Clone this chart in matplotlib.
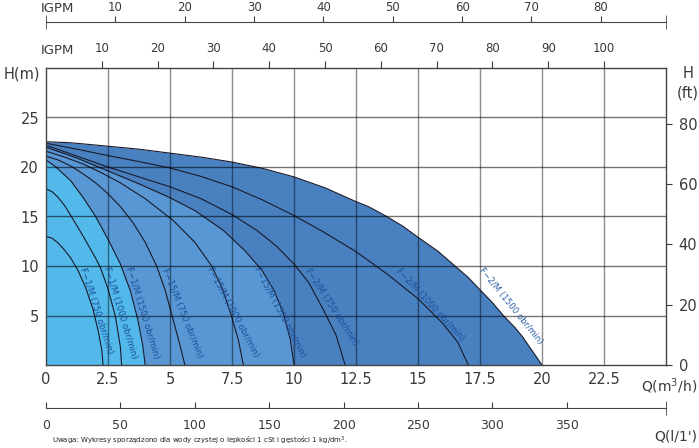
import matplotlib
matplotlib.use("Agg")
import matplotlib.pyplot as plt
from matplotlib.ticker import FixedLocator, NullFormatter

# ---------------- data (Q in m3/h, H in m) ----------------
q_f1_750 = [0, 0.25, 0.5, 0.75, 1.0, 1.3, 1.6, 1.9, 2.1, 2.25, 2.3]
h_f1_750 = [13.0, 12.8, 12.3, 11.6, 10.8, 9.5, 7.8, 5.6, 3.5, 1.5, 0]

q_f1_1000 = [0, 0.25, 0.5, 0.75, 1.0, 1.5, 2.0, 2.2, 2.5, 2.8, 3.0, 3.05]
h_f1_1000 = [17.8, 17.5, 16.9, 16.1, 15.1, 13.0, 10.8, 9.8, 7.7, 4.9, 1.8, 0]

q_f1_1500 = [0, 0.4, 1.0, 1.5, 2.0, 2.5, 3.0, 3.4, 3.7, 3.9, 4.0]
h_f1_1500 = [20.7, 20.0, 18.6, 16.9, 15.0, 12.7, 10.2, 7.5, 4.6, 2.0, 0]

q_f15_750 = [0, 0.5, 1, 1.5, 2, 2.5, 3, 3.5, 4.0, 4.46, 4.8, 5.07, 5.35, 5.6]
h_f15_750 = [21.1, 20.7, 20.1, 19.3, 18.4, 17.3, 16.0, 14.4, 12.4, 10.0, 7.6, 5.1, 2.5, 0]

q_f15_1000 = [0, 0.75, 1.5, 2.25, 3, 4, 5.13, 6, 6.68, 7.1, 7.46, 7.75, 7.96]
h_f15_1000 = [21.6, 21.0, 20.3, 19.4, 18.4, 16.8, 14.6, 12.4, 10.0, 7.8, 5.1, 2.6, 0]

q_f15_1500 = [0, 1.25, 2.5, 3.75, 5, 6, 7.15, 8, 8.7, 9.2, 9.57, 9.85, 10.0]
h_f15_1500 = [22.0, 20.9, 19.6, 18.3, 16.9, 15.6, 13.6, 11.6, 9.6, 7.5, 5.2, 2.6, 0]

q_f2_750 = [0, 1.25, 2.5, 3.75, 5, 6.25, 7.5, 8.5, 9.3, 10, 10.6, 11.18, 11.7, 12.06]
h_f2_750 = [22.2, 21.1, 20.0, 19.0, 18.0, 16.8, 15.2, 13.6, 12.0, 10.2, 8.3, 5.6, 3.0, 0]

q_f2_1000 = [0, 1.25, 2.5, 3.75, 5, 6.25, 7.5, 8.75, 10, 11.25, 12.5, 13.75, 15, 16, 16.6, 17.03]
h_f2_1000 = [22.4, 21.8, 21.15, 20.55, 19.9, 19.05, 18.0, 16.65, 15.1, 13.35, 11.45, 9.2, 6.7, 4.2, 2.3, 0]

q_f2_1500 = [0, 1, 2.5, 3.75, 5, 6.25, 7.5, 8.75, 10, 11.25, 12.5, 13.0, 13.74, 14.4,
             15, 15.8, 16.49, 17.0, 17.5, 18.0, 18.44, 18.9, 19.2, 19.5, 20]
h_f2_1500 = [22.55, 22.45, 22.1, 21.8, 21.4, 21.0, 20.5, 19.85, 19.0, 17.9, 16.5, 16.0, 15.0, 14.0,
             12.9, 11.5, 10.0, 8.9, 7.6, 6.3, 5.0, 3.8, 2.9, 1.8, 0]

curve_labels = ["F\u22121/M (750 obr/min)", "F\u22121/M (1000 obr/min)", "F\u22121/M (1500 obr/min)",
                "F\u221215/M (750 obr/min)", "F\u221215/M (1000 obr/min)", "F\u221215/M (1500 obr/min)",
                "F\u22122/M (750 obr/min)", "F\u22122/M (1000 obr/min)", "F\u22122/M (1500 obr/min)"]
label_q = [2.02, 2.98, 3.9, 5.5, 7.55, 9.44, 11.5, 15.48, 18.75]
label_h = [5.45, 5.25, 5.25, 5.25, 5.35, 5.35, 5.85, 6.15, 5.95]
label_rot = [-72, -73, -73, -68, -62, -62, -57, -47, -51]

x_ticks = [0, 2.5, 5, 7.5, 10, 12.5, 15, 17.5, 20, 22.5]
x_ticklabels = ["0", "2.5", "5", "7.5", "10", "12.5", "15", "17.5", "20", "22.5"]
y_ticks = [5, 10, 15, 20, 25]
ft_ticks = [0, 20, 40, 60, 80]
igpm_top_ticks = [10, 20, 30, 40, 50, 60, 70, 80]
igpm_ticks = [10, 20, 30, 40, 50, 60, 70, 80, 90, 100]
lmin_ticks = [0, 50, 100, 150, 200, 250, 300, 350]

# ---------------- styling ----------------
C_LIGHT = "#52b9ea"
C_MID = "#5897d3"
C_DARK = "#4880c0"
TXT = "#3a3a3a"
LBL = "#1c4f9c"

plt.rcParams['font.family'] = ['DejaVu Sans']

fig = plt.figure(figsize=(6.99, 4.48), dpi=100)
W, H = 699.0, 448.0
x0, x1, y0, y1 = 46, 666, 68, 365
ax = fig.add_axes([x0 / W, 1 - y1 / H, (x1 - x0) / W, (y1 - y0) / H])
QMAX, HMAX = 25.0, 30.0
ax.set_xlim(0, QMAX)
ax.set_ylim(0, HMAX)

# fills
ax.fill_between(q_f2_1500, h_f2_1500, 0, color=C_DARK, lw=0, zorder=1)
ax.fill_between(q_f15_1500, h_f15_1500, 0, color=C_MID, lw=0, zorder=1.1)
ax.fill_between(q_f1_1500, h_f1_1500, 0, color=C_LIGHT, lw=0, zorder=1.2)

curves = [(q_f1_750, h_f1_750), (q_f1_1000, h_f1_1000), (q_f1_1500, h_f1_1500),
          (q_f15_750, h_f15_750), (q_f15_1000, h_f15_1000), (q_f15_1500, h_f15_1500),
          (q_f2_750, h_f2_750), (q_f2_1000, h_f2_1000), (q_f2_1500, h_f2_1500)]
for q, h in curves:
    ax.plot(q, h, color="#1a1a2a", lw=0.8, zorder=2, solid_joinstyle="round")

for i, t in enumerate(curve_labels):
    col = "#2b5ea6" if i == 8 else LBL
    ax.text(label_q[i], label_h[i], t, rotation=label_rot[i], ha="center", va="center",
            fontsize=6.2, color=col, rotation_mode="anchor", zorder=3)

# grid
for xv in x_ticks[1:]:
    ax.axvline(xv, color="black", alpha=0.45, lw=1.0, zorder=2.5)
for yv in y_ticks:
    ax.axhline(yv, color="black", alpha=0.55, lw=1.0, zorder=2.5)

for s in ax.spines.values():
    s.set_color("#444444")
    s.set_linewidth(1.0)

ax.set_xticks(x_ticks)
ax.set_xticklabels(x_ticklabels)
ax.set_yticks(y_ticks)
ax.tick_params(axis="both", length=0, labelsize=10.5, colors=TXT, pad=5)

# right ft axis
axr = ax.twinx()
axr.set_ylim(0, HMAX * 3.2808)
axr.set_yticks(ft_ticks)
axr.tick_params(axis="y", length=4, labelsize=10.5, colors=TXT, pad=5)
for s in axr.spines.values():
    s.set_visible(False)

# second IGPM axis on top of the main plot
f_igpm2 = 111.1 / 25.0
sec = ax.secondary_xaxis("top", functions=(lambda q: q * f_igpm2, lambda g: g / f_igpm2))
sec.set_xticks(igpm_ticks)
sec.tick_params(length=5, labelsize=8.5, colors=TXT, pad=4)
sec.spines["top"].set_visible(False)
fig.text(57 / W, 1 - 50 / H, "IGPM", ha="center", va="center", fontsize=9.5, color=TXT)

# first IGPM axis at very top
f_igpm1 = 89.4 / 25.0
axt = fig.add_axes([x0 / W, 1 - 22 / H, (x1 - x0) / W, 0.0001])
axt.set_xlim(0, QMAX * f_igpm1)
axt.set_ylim(0, 1)
for k in ["left", "right", "bottom"]:
    axt.spines[k].set_visible(False)
axt.spines["top"].set_color("#444444")
axt.set_yticks([])
axt.xaxis.tick_top()
axt.set_xticks(igpm_top_ticks)
axt.tick_params(axis="x", length=4, labelsize=8.5, colors=TXT, pad=2)
axt.xaxis.set_minor_locator(FixedLocator([0, QMAX * f_igpm1]))
axt.xaxis.set_minor_formatter(NullFormatter())
axt.tick_params(axis="x", which="minor", direction="inout", length=10, colors="#444444")
fig.text(57 / W, 1 - 8 / H, "IGPM", ha="center", va="center", fontsize=9.5, color=TXT)

# bottom l/min axis
f_lmin = 1000.0 / 60.0
axb = fig.add_axes([x0 / W, 1 - 408 / H, (x1 - x0) / W, 0.0001])
axb.set_xlim(0, QMAX * f_lmin)
axb.set_ylim(0, 1)
for k in ["left", "right", "top"]:
    axb.spines[k].set_visible(False)
axb.spines["bottom"].set_color("#444444")
axb.set_yticks([])
axb.set_xticks(lmin_ticks)
axb.tick_params(axis="x", direction="in", length=4, labelsize=9, colors=TXT, pad=8)
axb.xaxis.set_minor_locator(FixedLocator([0, QMAX * f_lmin]))
axb.xaxis.set_minor_formatter(NullFormatter())
axb.tick_params(axis="x", which="minor", direction="inout", length=10, colors="#444444")

# axis titles
fig.text(22 / W, 1 - 74 / H, "H(m)", ha="center", va="center", fontsize=10.5, color=TXT)
fig.text(688 / W, 1 - 73 / H, "H", ha="center", va="center", fontsize=10.5, color=TXT)
fig.text(688 / W, 1 - 93 / H, "(ft)", ha="center", va="center", fontsize=10.5, color=TXT)
fig.text(697 / W, 1 - 386 / H, "Q(m$^3$/h)", ha="right", va="center", fontsize=10, color=TXT)
fig.text(697 / W, 1 - 436 / H, "Q(l/1')", ha="right", va="center", fontsize=10, color=TXT)
fig.text(52 / W, 1 - 441 / H,
         "Uwaga: Wykresy sporz\u0105dzono dla wody czystej o lepko\u015bci 1 cSt i g\u0119sto\u015bci 1 kg/dm$^3$.",
         ha="left", va="center", fontsize=5, color="#222222")

fig.savefig("out.png", dpi=100)
